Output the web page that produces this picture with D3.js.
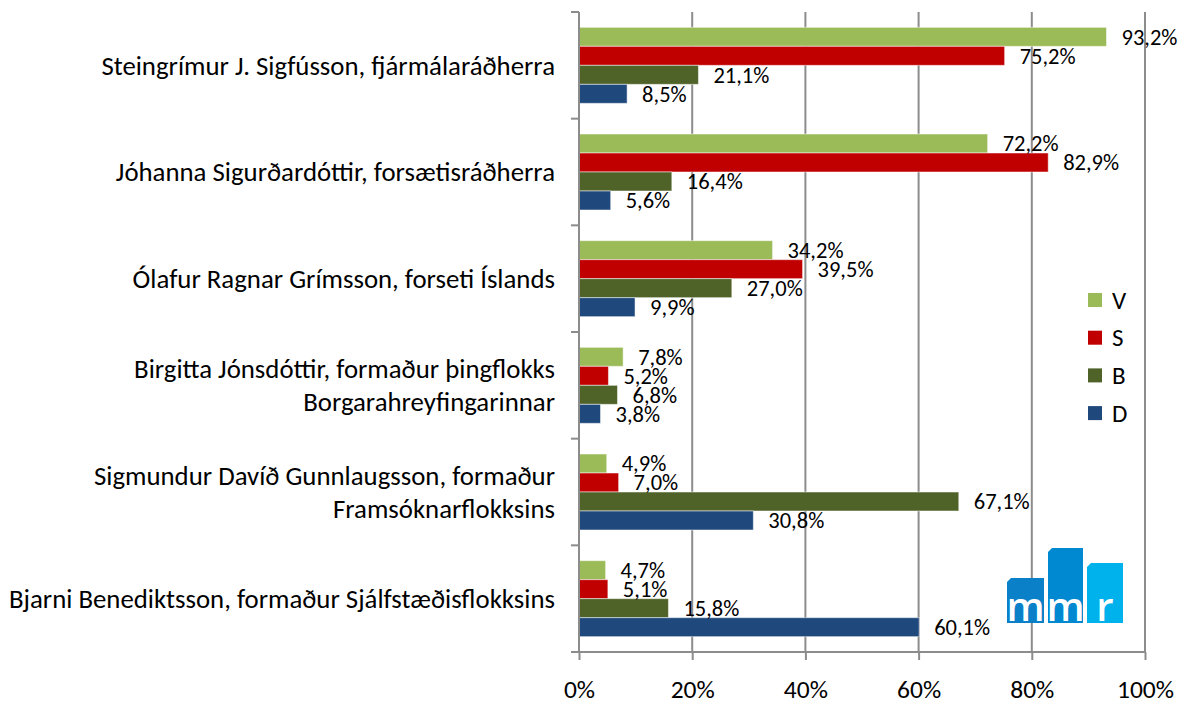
<!DOCTYPE html>
<html>
<head>
<meta charset="utf-8">
<script src="https://d3js.org/d3.v7.min.js"></script>
<style>
    body { margin: 0; background: #fff; }
    text { font-family: Carlito, Calibri, Lato, sans-serif; fill: #000; }
    .grid line { stroke: #8c8c8c; stroke-width: 2px; }
    .axis path, .axis line { stroke: #8c8c8c; stroke-width: 2px; }
    .axis text { font-size: 25.5px; }
    .cat { font-size: 26.8px; }
    .val { font-size: 22.5px; }
    .legend text { font-size: 25px; }
</style>
</head>
<body>
<div id="chart"></div>
<script>
    // categories (one entry per line of the label)
    var categories = [
        ["Steingrímur J. Sigfússon, fjármálaráðherra"],
        ["Jóhanna Sigurðardóttir, forsætisráðherra"],
        ["Ólafur Ragnar Grímsson, forseti Íslands"],
        ["Birgitta Jónsdóttir, formaður þingflokks", "Borgarahreyfingarinnar"],
        ["Sigmundur Davíð Gunnlaugsson, formaður", "Framsóknarflokksins"],
        ["Bjarni Benediktsson, formaður Sjálfstæðisflokksins"]
    ];
    var series = ["V", "S", "B", "D"];
    var colors = ["#9bbb59", "#c00000", "#4f6228", "#1f497d"];

    var valV = [93.2, 72.2, 34.2, 7.8, 4.9, 4.7];
    var valS = [75.2, 82.9, 39.5, 5.2, 7.0, 5.1];
    var valB = [21.1, 16.4, 27.0, 6.8, 67.1, 15.8];
    var valD = [8.5, 5.6, 9.9, 3.8, 30.8, 60.1];
    var xTicks = [0, 20, 40, 60, 80, 100];

    var values = [valV, valS, valB, valD];

    var width = 1186, height = 704;
    var plotLeft = 579, plotRight = 1145, plotTop = 12, plotBottom = 652;

    var svg = d3.select("#chart").append("svg")
        .attr("width", width)
        .attr("height", height);

    var x = d3.scaleLinear().domain([0, 100]).range([plotLeft, plotRight]);

    var y = d3.scaleBand()
        .domain(d3.range(categories.length))
        .range([plotTop, plotBottom])
        .paddingInner(0.2875)
        .paddingOuter(0.14375);

    var ySub = d3.scaleBand()
        .domain(series)
        .range([0, y.bandwidth()]);

    // gridlines
    svg.append("g")
        .attr("class", "grid")
        .selectAll("line")
        .data(xTicks.slice(1))
        .enter().append("line")
        .attr("x1", function (d) { return x(d); })
        .attr("x2", function (d) { return x(d); })
        .attr("y1", plotTop)
        .attr("y2", plotBottom);

    // bars
    var rows = [];
    categories.forEach(function (c, i) {
        series.forEach(function (s, j) {
            rows.push({ cat: i, s: s, j: j, v: values[j][i] });
        });
    });

    var fmt = d3.format(".1f");

    svg.append("g")
        .selectAll("rect")
        .data(rows)
        .enter().append("rect")
        .attr("x", x(0))
        .attr("y", function (d) { return y(d.cat) + ySub(d.s); })
        .attr("width", function (d) { return x(d.v) - x(0); })
        .attr("height", ySub.bandwidth())
        .attr("fill", function (d) { return colors[d.j]; })
        .attr("stroke", "#fff")
        .attr("stroke-opacity", 0.5)
        .attr("stroke-width", 1);

    svg.append("g")
        .selectAll("text")
        .data(rows)
        .enter().append("text")
        .attr("class", "val")
        .attr("x", function (d) { return x(d.v) + 15; })
        .attr("y", function (d) { return y(d.cat) + ySub(d.s) + ySub.bandwidth() / 2; })
        .attr("dy", "0.35em")
        .text(function (d) { return fmt(d.v).replace(".", ",") + "%"; });

    // axes
    var xAxis = svg.append("g")
        .attr("class", "axis")
        .attr("transform", "translate(0," + plotBottom + ")")
        .call(d3.axisBottom(x)
            .tickValues(xTicks)
            .tickSize(8)
            .tickSizeOuter(0)
            .tickPadding(20)
            .tickFormat(function (d) { return d + "%"; }));
    xAxis.select(".domain").attr("d", "M" + (plotLeft - 8) + ",0H" + plotRight);

    var yAxis = svg.append("g")
        .attr("class", "axis")
        .attr("transform", "translate(" + plotLeft + ",0)");
    yAxis.append("line")
        .attr("x1", 0).attr("x2", 0)
        .attr("y1", plotTop).attr("y2", plotBottom);
    yAxis.selectAll(".tk")
        .data(d3.range(categories.length))
        .enter().append("line")
        .attr("class", "tk")
        .attr("x1", -8).attr("x2", 0)
        .attr("y1", function (d) { return plotTop + d * y.step(); })
        .attr("y2", function (d) { return plotTop + d * y.step(); });

    // category labels
    var cats = svg.append("g")
        .selectAll("text")
        .data(categories)
        .enter().append("text")
        .attr("class", "cat")
        .attr("text-anchor", "end")
        .attr("x", plotLeft - 24)
        .attr("y", function (d, i) {
            return y(i) + y.bandwidth() / 2 - (d.length - 1) * 16.5;
        });
    cats.selectAll("tspan")
        .data(function (d) { return d; })
        .enter().append("tspan")
        .attr("x", plotLeft - 24)
        .attr("dy", function (d, i) { return i === 0 ? "0.35em" : "33px"; })
        .text(function (d) { return d; });

    // legend
    var legend = svg.append("g")
        .attr("class", "legend")
        .attr("transform", "translate(1088,300)")
        .selectAll("g")
        .data(series)
        .enter().append("g")
        .attr("transform", function (d, i) { return "translate(0," + (i * 37.7) + ")"; });
    legend.append("rect")
        .attr("x", 0).attr("y", -7)
        .attr("width", 14).attr("height", 14)
        .attr("fill", function (d, i) { return colors[i]; });
    legend.append("text")
        .attr("x", 24)
        .attr("dy", "0.35em")
        .text(function (d) { return d; });

    // mmr logo
    var logo = svg.append("g").attr("transform", "translate(1007,548)");
    var blocks = [
        { x: 0, y: 30, w: 37, h: 45, c: "#0a80c8", t: "m" },
        { x: 41, y: 0, w: 35, h: 75, c: "#0088d0", t: "m" },
        { x: 80, y: 15, w: 36, h: 60, c: "#00b2ec", t: "r" }
    ];
    logo.selectAll("path")
        .data(blocks)
        .enter().append("path")
        .attr("d", function (d) {
            return "M" + d.x + "," + (d.y + 4) + "L" + (d.x + 4) + "," + d.y +
                "H" + (d.x + d.w) + "V" + (d.y + d.h) + "H" + d.x + "Z";
        })
        .attr("fill", function (d) { return d.c; });
    logo.selectAll("text")
        .data(blocks)
        .enter().append("text")
        .attr("x", function (d) { return d.x + d.w / 2; })
        .attr("y", 73)
        .attr("text-anchor", "middle")
        .style("font-family", "'Open Sans', sans-serif")
        .style("font-weight", "600")
        .style("font-size", "40px")
        .style("fill", "#fff")
        .text(function (d) { return d.t; });
</script>
</body>
</html>
